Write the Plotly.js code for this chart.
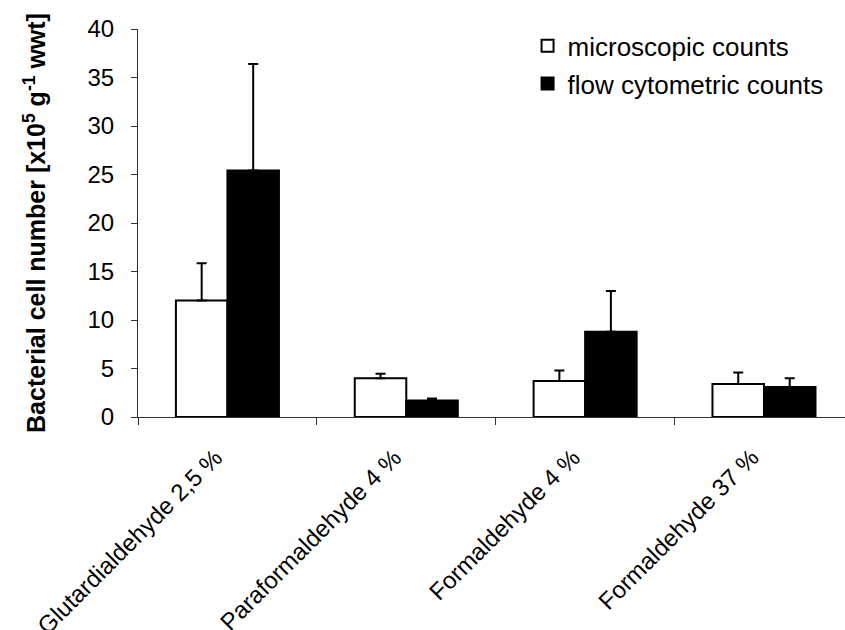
<!DOCTYPE html>
<html>
<head>
<meta charset="utf-8">
<script src="https://cdn.plot.ly/plotly-3.0.1.min.js"></script>
<style>
  html, body { margin: 0; padding: 0; background: #fff; }
  #chart { width: 845px; height: 630px; }
</style>
</head>
<body>
<div id="chart"></div>
<script>
// Fixatives compared
const categories = ["Glutardialdehyde 2,5 %", "Paraformaldehyde 4 %", "Formaldehyde 4 %", "Formaldehyde 37 %"];

// Mean cell counts [x10^5 g^-1 wwt]
const microscopicCounts = [12.0, 4.0, 3.7, 3.4];
const flowCytometricCounts = [25.4, 1.7, 8.8, 3.1];

// Upper error (standard deviation) for each mean
const microscopicError = [3.85, 0.45, 1.1, 1.2];
const flowCytometricError = [11.0, 0.2, 4.2, 0.9];

const zeros = categories.map(() => 0);

const traceMicro = {
  type: "bar",
  name: "microscopic counts",
  legendgroup: "micro",
  x: categories,
  y: microscopicCounts,
  marker: { color: "#ffffff", line: { color: "#000000", width: 2 } },
  error_y: { type: "data", symmetric: false, array: microscopicError, arrayminus: zeros,
             color: "#000000", thickness: 2, width: 5 }
};

const traceFlow = {
  type: "bar",
  name: "flow cytometric counts",
  legendgroup: "flow",
  x: categories,
  y: flowCytometricCounts,
  marker: { color: "#000000", line: { color: "#000000", width: 2 } },
  error_y: { type: "data", symmetric: false, array: flowCytometricError, arrayminus: zeros,
             color: "#000000", thickness: 2, width: 5 }
};

const font = "Arial, 'Liberation Sans', sans-serif";

const layout = {
  width: 845,
  height: 630,
  margin: { l: 138, r: 0, t: 29, b: 213, pad: 0 },
  paper_bgcolor: "#ffffff",
  plot_bgcolor: "#ffffff",
  font: { family: font, color: "#000000", size: 24 },
  barmode: "group",
  bargap: 0.424,
  bargroupgap: 0,
  showlegend: true,
  legend: {
    x: 0.551, y: 1.017, xanchor: "left", yanchor: "top",
    font: { family: font, size: 26, color: "#000000" },
    bgcolor: "rgba(0,0,0,0)",
    tracegroupgap: 1
  },
  xaxis: {
    type: "category",
    range: [-0.5, 3.453],
    showline: true, linecolor: "#333333", linewidth: 1,
    ticks: "outside", tickson: "boundaries", ticklen: 7, tickcolor: "#333333",
    tickangle: -45,
    ticklabelstandoff: 16,
    ticklabelshift: -12,
    tickfont: { family: font, size: 24, color: "#000000" },
    showgrid: false, zeroline: false, automargin: false
  },
  yaxis: {
    range: [0, 40],
    dtick: 5,
    showline: true, linecolor: "#333333", linewidth: 1,
    ticks: "outside", ticklen: 6, tickcolor: "#333333",
    ticklabelstandoff: 12,
    tickfont: { family: font, size: 24, color: "#000000" },
    showgrid: false, zeroline: false, automargin: false,
    title: {
      text: "<b>Bacterial cell number [x10<sup>5</sup> g<sup>-1</sup> wwt]</b>",
      font: { family: font, size: 25, color: "#000000" },
      standoff: 34
    }
  }
};

Plotly.newPlot("chart", [traceMicro, traceFlow], layout, { displayModeBar: false, staticPlot: true });
</script>
</body>
</html>
